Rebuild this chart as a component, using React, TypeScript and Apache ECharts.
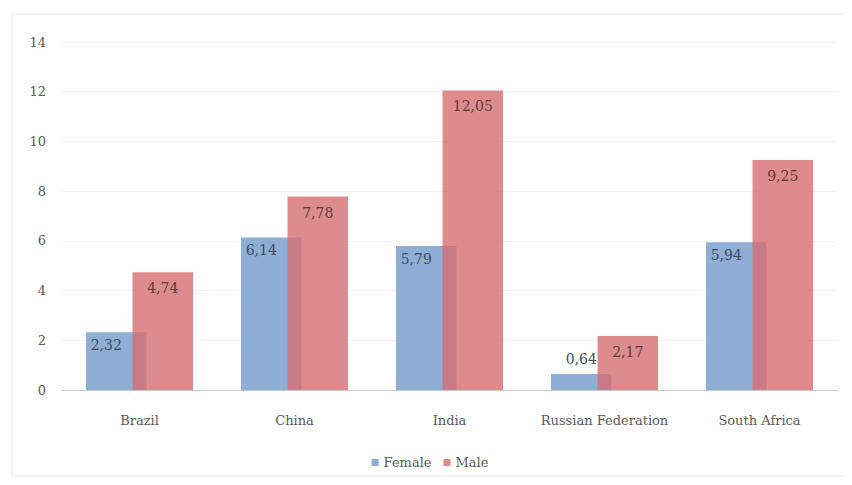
import React, { useEffect, useRef } from "react";
import * as echarts from "echarts";

const categories = ["Brazil", "China", "India", "Russian Federation", "South Africa"];
const female = [2.32, 6.14, 5.79, 0.64, 5.94];
const male = [4.74, 7.78, 12.05, 2.17, 9.25];
const seriesNames = ["Female", "Male"];

const FONT = "DejaVu Serif";
const fmt = (p: any) => String(p.value).replace(".", ",");

export default function App() {
  const ref = useRef<HTMLDivElement>(null);
  useEffect(() => {
    const chart = echarts.init(ref.current!, undefined, { renderer: "svg" });
    chart.setOption({
      animation: false,
      backgroundColor: "#ffffff",
      graphic: [
        {
          type: "rect",
          shape: { x: 4, y: 6, width: 860, height: 462 },
          style: { fill: "none", stroke: "#e8e8e8", lineWidth: 1 },
          silent: true,
        },
      ],
      grid: { left: 54, right: 15, top: 34, bottom: 87 },
      legend: {
        data: seriesNames,
        bottom: 3,
        left: "center",
        itemWidth: 7,
        itemHeight: 7,
        itemGap: 12,
        icon: "rect",
        textStyle: { fontFamily: FONT, fontSize: 13, color: "#595959" },
      },
      xAxis: {
        type: "category",
        data: categories,
        axisLine: { lineStyle: { color: "#c8c8c8", width: 1 } },
        axisTick: { show: false },
        axisLabel: {
          interval: 0,
          hideOverlap: false,
          fontFamily: FONT,
          fontSize: 13,
          color: "#595959",
          margin: 24,
        },
      },
      yAxis: {
        type: "value",
        min: 0,
        max: 14,
        interval: 2,
        axisLine: { show: false },
        axisTick: { show: false },
        splitLine: { lineStyle: { color: "#f2f2f2" } },
        axisLabel: { fontFamily: FONT, fontSize: 13, color: "#595959", margin: 16 },
      },
      series: [
        {
          name: "Female",
          type: "bar",
          barWidth: "39%",
          barGap: "-23%",
          itemStyle: { color: "#8eaed6" },
          data: female.map((v, i) =>
            i === 3
              ? { value: v, label: { position: "top", offset: [0, -3] } }
              : v
          ),
          label: {
            show: true,
            position: "insideTop",
            offset: [-10, 1],
            formatter: fmt,
            fontFamily: FONT,
            fontSize: 14,
            color: "#3d4b5e",
          },
        },
        {
          name: "Male",
          type: "bar",
          barWidth: "39%",
          barGap: "-23%",
          itemStyle: { color: "rgba(214,110,112,0.8)" },
          data: male,
          label: {
            show: true,
            position: "insideTop",
            offset: [0, 4],
            formatter: fmt,
            fontFamily: FONT,
            fontSize: 14,
            color: "#5b3b3b",
          },
        },
      ],
    });
    return () => chart.dispose();
  }, []);
  return <div ref={ref} style={{ width: 844, height: 469 }} />;
}
